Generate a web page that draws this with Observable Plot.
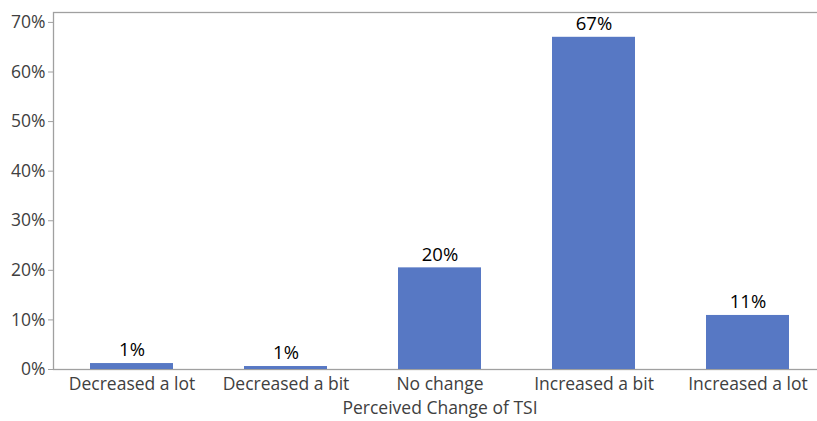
<!DOCTYPE html>
<html><head><meta charset="utf-8">
<script src="https://cdn.jsdelivr.net/npm/d3@7"></script>
<script src="https://cdn.jsdelivr.net/npm/@observablehq/plot@0.6"></script>
<style>body{margin:0;background:#fff;} svg{display:block;}</style>
</head><body><div id="chart"></div>
<script>
const categories = ["Decreased a lot", "Decreased a bit", "No change", "Increased a bit", "Increased a lot"];
const values = [0.012, 0.006, 0.205, 0.67, 0.109];
const labels = ["1%", "1%", "20%", "67%", "11%"];
const yTicks = [0, 0.1, 0.2, 0.3, 0.4, 0.5, 0.6, 0.7];

const data = categories.map((c, i) => ({cat: c, v: values[i], label: labels[i]}));
const font = "'Open Sans', 'Noto Sans', sans-serif";

const chart = Plot.plot({
  width: 817, height: 421,
  marginLeft: 53, marginRight: -9, marginTop: 12, marginBottom: 52,
  style: {fontFamily: font, fontSize: "17.5px", color: "#404040", background: "#fff"},
  x: {domain: categories, paddingInner: 0.46, paddingOuter: 0.23, label: null},
  y: {domain: [0, 0.72], label: null},
  marks: [
    Plot.frame({stroke: "#A0A0A0", strokeWidth: 1.3}),
    Plot.barY(data, {x: "cat", y: "v", fill: "#5778C4"}),
    Plot.text(data, {x: "cat", y: "v", text: "label", dy: -13, fill: "#000", fontSize: 18.5}),
    Plot.axisY({ticks: yTicks, tickFormat: d => Math.round(d * 100) + "%", tickSize: 5, tickPadding: 3, stroke: "#A0A0A0", fill: "#404040", fontSize: 17.5, label: null}),
    Plot.axisX({tickSize: 0, tickPadding: 8, fill: "#404040", fontSize: 17.5, label: null}),
    Plot.text(["Perceived Change of TSI"], {frameAnchor: "bottom", dy: 44, fill: "#404040", fontSize: 17.5})
  ]
});
document.getElementById("chart").append(chart);
</script></body></html>
